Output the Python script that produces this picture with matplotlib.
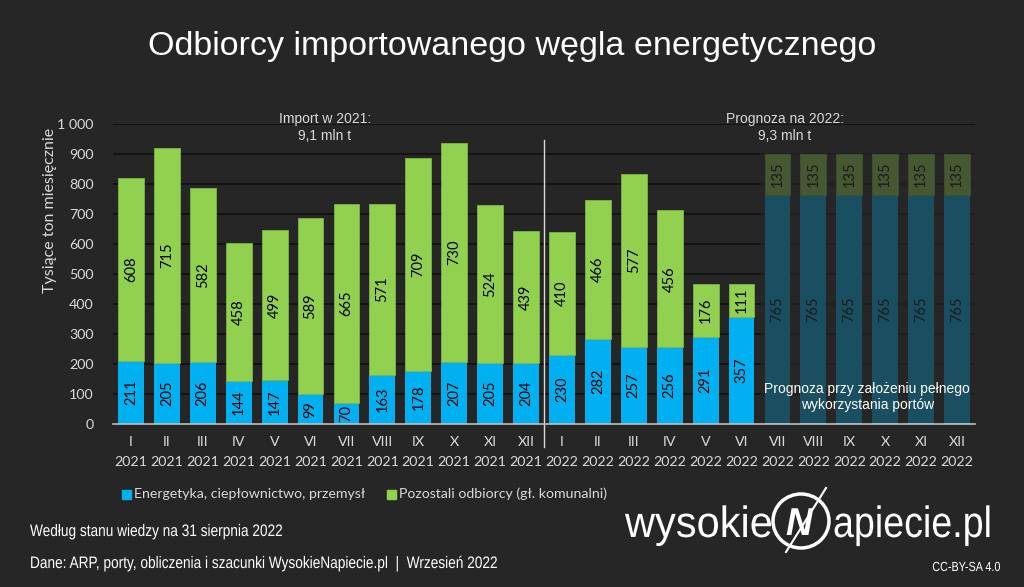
import matplotlib.pyplot as plt
import numpy as np
from matplotlib.font_manager import FontProperties
from matplotlib.patches import Ellipse, Rectangle, PathPatch
from matplotlib.textpath import TextPath
from matplotlib.transforms import Affine2D, IdentityTransform

months = ["I", "II", "III", "IV", "V", "VI", "VII", "VIII", "IX", "X", "XI", "XII"]
years = ["2021"] * 12 + ["2022"] * 12
energetyka = [211, 205, 206, 144, 147, 99, 70, 163, 178, 207, 205, 204,
              230, 282, 257, 256, 291, 357, 765, 765, 765, 765, 765, 765]
pozostali = [608, 715, 582, 458, 499, 589, 665, 571, 709, 730, 524, 439,
             410, 466, 577, 456, 176, 111, 135, 135, 135, 135, 135, 135]
n_real = 18
legend_labels = ["Energetyka, ciepłownictwo, przemysł", "Pozostali odbiorcy (gł. komunalni)"]

bg = "#262626"
blue = "#00b0f0"
green = "#92d050"
txt = "#d9d9d9"
calib = ["Lato", "DejaVu Sans"]
W, H = 1024, 587

fig = plt.figure(figsize=(10.24, 5.87), dpi=100, facecolor=bg)
ax = fig.add_axes([113/W, 1-424/H, 862/W, 300/H])
ax.set_facecolor(bg)


def narrow_text(s, x, y, size, sx=0.82, ha="left", color="white", **kw):
    # condensed text drawn as a path; x, y = baseline in pixels from top-left
    tp = TextPath((0, 0), s, size=size*100/72, prop=FontProperties(family="Liberation Sans", **kw))
    ext = tp.get_extents()
    if ha == "right":
        x0 = x - ext.x1*sx
    elif ha == "center":
        x0 = x - (ext.x0 + ext.x1)/2*sx
    else:
        x0 = x
    tr = Affine2D().scale(sx, 1).translate(x0, H - y)
    fig.patches.append(PathPatch(tr.transform_path(tp), facecolor=color, edgecolor="none",
                                 transform=IdentityTransform()))


x = np.arange(len(energetyka))
e = np.array(energetyka)
p = np.array(pozostali)
ax.bar(x, e, width=0.72, color=blue, zorder=2)
ax.bar(x, p, bottom=e, width=0.72, color=green, edgecolor="#7fb545", linewidth=0.6, zorder=2)

for i in x:
    ax.text(i, e[i]/2, str(e[i]), rotation=90, ha="center", va="center",
            fontsize=10.5, family=calib, color="black", zorder=3)
    ax.text(i, e[i] + p[i]/2, str(p[i]), rotation=90, ha="center", va="center",
            fontsize=10.5, family=calib, color="black", zorder=3)

# dimmed forecast part
ax.add_patch(Rectangle((n_real - 0.5, 4), len(x) - n_real, 900, facecolor=bg,
                       alpha=0.7, edgecolor="none", zorder=4))
ax.text(20.5, 90, "Prognoza przy założeniu pełnego\nwykorzystania portów", ha="center",
        va="center", fontsize=10, color="white", family="Liberation Sans", zorder=5,
        linespacing=1.1)

ax.set_xlim(-0.5, len(x) - 0.5)
ax.set_ylim(0, 1000)
ax.set_yticks(range(0, 1001, 100))
ax.set_yticklabels([f"{v:,}".replace(",", " ") for v in range(0, 1001, 100)])
ax.yaxis.grid(True, color="#111111", linewidth=1.3, zorder=0)
ax.set_axisbelow(True)
ax.set_xticks(x)
ax.set_xticklabels([m + "\n" + y for m, y in zip(months * 2, years)], linespacing=1.7)
ax.tick_params(axis="both", length=0, colors=txt, labelsize=10.3)
ax.tick_params(axis="y", pad=14)
ax.tick_params(axis="x", pad=9)
for lab in ax.get_xticklabels() + ax.get_yticklabels():
    lab.set_family(calib)
for s in ["left", "right", "top"]:
    ax.spines[s].set_visible(False)
ax.spines["bottom"].set_color("#bfbfbf")
ax.spines["bottom"].set_linewidth(1.2)
ax.spines["bottom"].set_zorder(6)

ax.set_ylabel("Tysiące ton miesięcznie", color=txt, fontsize=11.5, family=calib)
ax.yaxis.set_label_coords(-0.065, 0.713)

ax.plot([11.5, 11.5], [-78, 948], color="#d9d9d9", linewidth=1, clip_on=False, zorder=6)

ax.text(5.4, 988, "Import w 2021:\n9,1 mln t", ha="center", va="center", fontsize=10,
        color=txt, family="Liberation Sans", linespacing=1.3, zorder=5)
ax.text(18.2, 988, "Prognoza na 2022:\n9,3 mln t", ha="center", va="center", fontsize=10,
        color=txt, family="Liberation Sans", linespacing=1.3, zorder=5)

fig.text(0.5, 1-46/H, "Odbiorcy importowanego węgla energetycznego", ha="center",
         va="center", fontsize=24.5, color="white", family="Liberation Sans")

# legend
for xp, col, lab in [(122, blue, legend_labels[0]), (387, green, legend_labels[1])]:
    fig.patches.append(Rectangle((xp/W, 1-499/H), 9/W, 9/H, color=col,
                                 transform=fig.transFigure))
    fig.text((xp + 12)/W, 1-494/H, lab, va="center", fontsize=10.2, color=txt, family=calib)

narrow_text("Według stanu wiedzy na 31 sierpnia 2022", 30, 536, 12)
narrow_text("Dane: ARP, porty, obliczenia i szacunki WysokieNapiecie.pl  |  Wrzesień 2022", 30, 568, 12)
narrow_text("CC-BY-SA 4.0", 1000, 571, 9.5, ha="right")

# logo
narrow_text("wysokie", 771, 537, 31.5, sx=0.95, ha="right")
narrow_text("apiecie.pl", 833, 537, 31.5, sx=0.86)
fig.patches.append(Ellipse((801/W, 1-521/H), 56/W, 54/H, fill=False,
                           edgecolor="white", linewidth=2.5, transform=fig.transFigure))
narrow_text("N", 800, 535, 28, sx=0.95, ha="center", weight="bold", style="italic")
fig.lines.append(plt.Line2D([826/W, 786/W], [1-488/H, 1-552/H], color="white",
                            linewidth=1.5, transform=fig.transFigure))

fig.savefig("out.png", dpi=100, facecolor=bg)
